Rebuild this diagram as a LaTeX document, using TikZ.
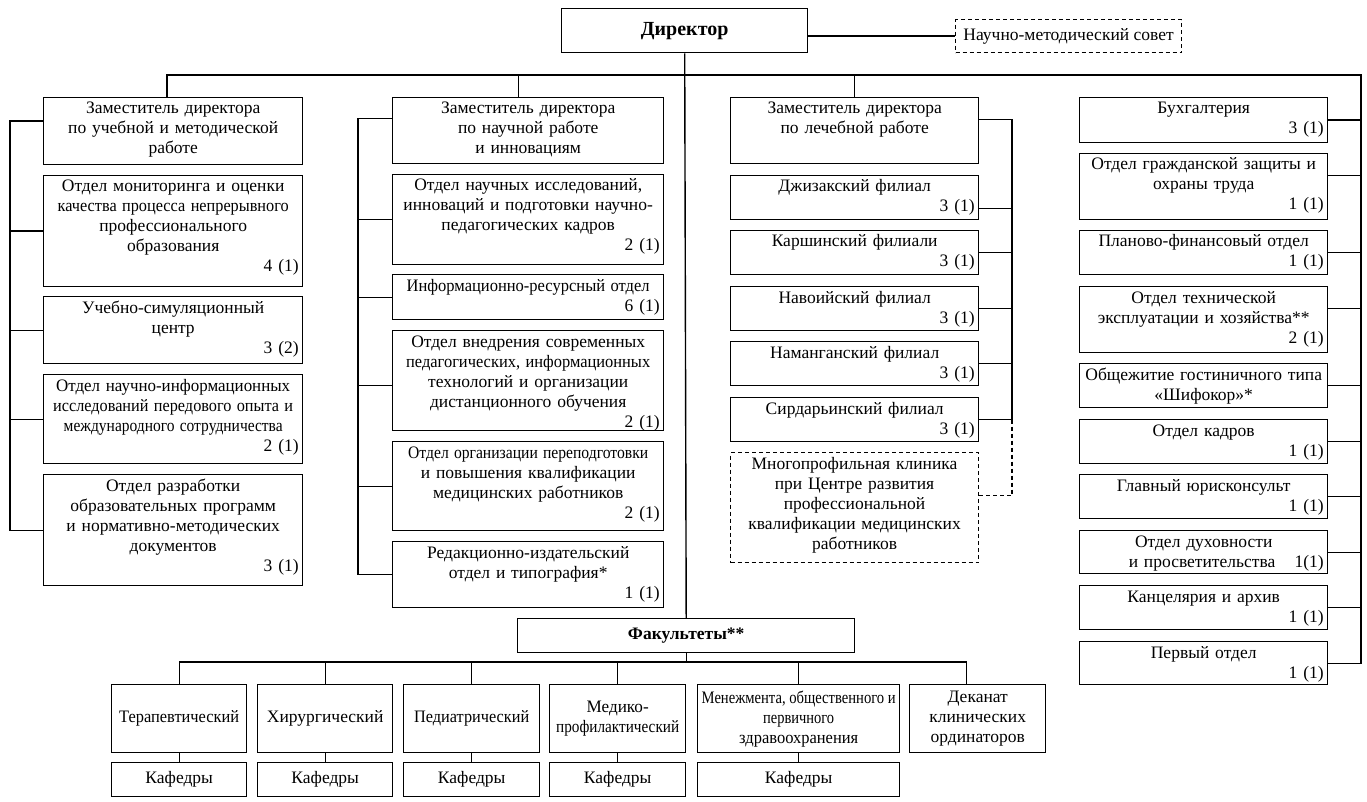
\documentclass[tikz,border=0pt]{standalone}
\usepackage{fontspec}
\setmainfont{Liberation Serif}
\usepackage{graphicx}
\newcommand\nm[1]{\\\hspace*{\fill}#1}
\newsavebox\fitbx
\newcommand\sq[2]{\sbox\fitbx{#2}\ifdim\wd\fitbx>#1pt\relax\resizebox{#1pt}{\height}{\usebox\fitbx}\else\usebox\fitbx\fi}
\tikzset{
  ob/.style={draw, line width=1.4pt, rectangle, inner sep=0pt},
  dob/.style={draw, line width=1.1pt, dash pattern=on 4pt off 3pt, rectangle, inner sep=0pt},
  tx/.style={align=center, inner sep=0pt, font=\fontsize{17.5}{20}\selectfont},
  ln/.style={line width=1.4pt},
  dln/.style={line width=1.1pt, dash pattern=on 4pt off 3pt},
  fbx/.style={ob, align=center, font=\fontsize{17.5}{20}\selectfont},
}
\newcommand\tbox[7][ob]{%
  \node[#1, minimum width={(#5-#3)*1pt}, minimum height={(#6-#4)*1pt}, anchor=north west] (#2) at (#3,#4) {};
  \node[tx, text width={(#5-#3-8)*1pt}, anchor=base] (#2t) at ([yshift=-17pt]#2.north) {#7};
}
\newcommand\facbox[6]{%
  \node[fbx, minimum width={(#4-#2)*1pt}, minimum height={(#5-#3)*1pt}, anchor=north west] (#1) at (#2,#3) {#6};
}
\begin{document}
\begin{tikzpicture}[x=1pt,y=-1pt]
\fill[white] (0,0) rectangle (1367,802);
\useasboundingbox (0,0) rectangle (1367,802);

% top
\node[ob, minimum width=246pt, minimum height=44pt, anchor=north west, font=\bfseries\fontsize{20}{22}\selectfont] (dir) at (561,8) {Директор\rule[-3pt]{0pt}{0pt}};
\node[dob, minimum width=226pt, minimum height=33pt, anchor=north west, font=\fontsize{17.5}{20}\selectfont] (sov) at (955,19) {Научно-методический совет};

% column 1
\tbox{dA}{43}{97}{302}{164}{Заместитель директора\\по учебной и методической\\работе}
\tbox{B1}{43}{175}{302}{286}{Отдел мониторинга и оценки\\\sq{231}{качества процесса непрерывного}\\профессионального\\образования\nm{4 (1)}}
\tbox{B2}{43}{296}{302}{363}{Учебно-симуляционный\\центр\nm{3 (2)}}
\tbox{B3}{43}{374}{302}{463}{\sq{234}{Отдел научно-информационных}\\\sq{240}{исследований передового опыта и}\\\sq{219}{международного сотрудничества}\nm{2 (1)}}
\tbox{B4}{43}{474}{302}{585}{Отдел разработки\\образовательных программ\\и нормативно-методических\\документов\nm{3 (1)}}

% column 2
\tbox{dB}{392}{97}{663}{163}{Заместитель директора\\по научной работе\\и инновациям}
\tbox{C1}{392}{174}{663}{264}{Отдел научных исследований,\\инноваций и подготовки научно-\\педагогических кадров\nm{2 (1)}}
\tbox{C2}{392}{274}{663}{319}{\sq{243}{Информационно-ресурсный отдел}\nm{6 (1)}}
\tbox{C3}{392}{330}{663}{430}{Отдел внедрения современных\\\sq{244}{педагогических, информационных}\\технологий и организации\\дистанционного обучения\nm{2 (1)}}
\tbox{C4}{392}{441}{663}{530}{\sq{240}{Отдел организации переподготовки}\\и повышения квалификации\\медицинских работников\nm{2 (1)}}
\tbox{C5}{392}{541}{663}{607}{Редакционно-издательский\\отдел и типография*\nm{1 (1)}}

% column 3
\tbox{dC}{730}{97}{978}{163}{Заместитель директора\\по лечебной работе}
\tbox{D1}{730}{175}{978}{219}{Джизакский филиал\nm{3 (1)}}
\tbox{D2}{730}{230}{978}{274}{Каршинский филиали\nm{3 (1)}}
\tbox{D3}{730}{286}{978}{330}{Навоийский филиал\nm{3 (1)}}
\tbox{D4}{730}{341}{978}{385}{Наманганский филиал\nm{3 (1)}}
\tbox{D5}{730}{397}{978}{441}{Сирдарьинский филиал\nm{3 (1)}}
\tbox[dob]{CL}{730}{452}{978}{562}{Многопрофильная клиника\\при Центре развития\\профессиональной\\квалификации медицинских\\работников}

% column 4
\tbox{E1}{1079}{97}{1327}{142}{Бухгалтерия\nm{3 (1)}}
\tbox{E2}{1079}{153}{1327}{219}{Отдел гражданской защиты и\\охраны труда\nm{1 (1)}}
\tbox{E3}{1079}{230}{1327}{274}{Планово-финансовый отдел\nm{1 (1)}}
\tbox{E4}{1079}{286}{1327}{352}{Отдел технической\\эксплуатации и хозяйства**\nm{2 (1)}}
\tbox{E5}{1079}{363}{1327}{407}{Общежитие гостиничного типа\\«Шифокор»*}
\tbox{E6}{1079}{419}{1327}{463}{Отдел кадров\nm{1 (1)}}
\tbox{E7}{1079}{474}{1327}{518}{Главный юрисконсульт\nm{1 (1)}}
\tbox{E8}{1079}{530}{1327}{573}{Отдел духовности\\\hspace*{\fill}и просветительства\hspace{1.1em}1(1)\hspace*{8pt}}
\tbox{E9}{1079}{585}{1327}{629}{Канцелярия и архив\nm{1 (1)}}
\tbox{E10}{1079}{641}{1327}{684}{Первый отдел\nm{1 (1)}}

% faculties
\node[ob, minimum width=337pt, minimum height=34pt, anchor=north west, font=\bfseries\fontsize{17.5}{20}\selectfont] (fac) at (517,618) {Факультеты**\rule[-4pt]{0pt}{0pt}};
\facbox{F1}{111}{684}{246}{752}{\sq{120}{Терапевтический}}
\facbox{F2}{257}{684}{392}{752}{Хирургический}
\facbox{F3}{403}{684}{539}{752}{\sq{115}{Педиатрический}}
\facbox{F4}{549}{684}{685}{752}{\sq{62}{Медико-}\\\sq{123}{профилактический}}
\facbox{F5}{697}{684}{899}{752}{\sq{194}{Менежмента, общественного и}\\\sq{71}{первичного}\\\sq{119}{здравоохранения}}
\facbox{F6}{909}{684}{1045}{752}{Деканат\\клинических\\ординаторов}
\facbox{K1}{111}{762}{246}{796}{Кафедры}
\facbox{K2}{257}{762}{392}{796}{Кафедры}
\facbox{K3}{403}{762}{539}{796}{Кафедры}
\facbox{K4}{549}{762}{685}{796}{Кафедры}
\facbox{K5}{697}{762}{899}{796}{Кафедры}

% connectors
\coordinate (bL) at (167,75);
\coordinate (bR) at (1361,75);
\coordinate (lA) at (10,0);
\coordinate (lB) at (358,0);
\coordinate (lC) at (1012,0);
\coordinate (fb) at (0,662);

\draw[ln] (dir.east |- sov.west) -- (sov.west);
\draw[ln] (dir.south) -- (fac.north);
\draw[ln] (dA.north -| bL) -- (bL) -- (bR) |- (E10.east);
\draw[ln] ([xshift=-10pt]dB.north) -- ([xshift=-10pt]dB.north |- bL);
\draw[ln] (dC.north) -- (dC.north |- bL);

\draw[ln] ([yshift=10pt]dA.west) -| (lA |- B4.west) -- (B4.west);
\foreach \n in {B1,B2,B3} \draw[ln] (\n.west) -- (\n.west -| lA);

\draw[ln] ([yshift=12pt]dB.west) -| (lB |- C5.west) -- (C5.west);
\foreach \n in {C1,C2,C4} \draw[ln] (\n.west) -- (\n.west -| lB);
\draw[ln] ([yshift=-5pt]C3.west) -- ([yshift=-5pt]C3.west -| lB);

\draw[ln] ([yshift=11pt]dC.east) -| (lC |- D5.east) -- (D5.east);
\draw[ln] ([yshift=-11pt]D1.east) -- ([yshift=-11pt]D1.east -| lC);
\foreach \n in {D2,D3,D4} \draw[ln] (\n.east) -- (\n.east -| lC);
\draw[dln] (lC |- D5.east) |- ([yshift=12pt]CL.east);

\foreach \n in {E1,E3,E5,E6,E7,E8,E9} \draw[ln] (\n.east) -- (\n.east -| bR);
\foreach \n in {E2,E4} \draw[ln] ([yshift=11pt]\n.east) -- ([yshift=11pt]\n.east -| bR);

\coordinate (f6) at ([xshift=-11pt]F6.north);
\draw[ln] (fac.south) -- (fac.south |- fb);
\draw[ln] (F1.north) -- (F1.north |- fb) -- (fb -| f6) -- (f6);
\foreach \n in {F2,F3,F4,F5} \draw[ln] (\n.north) -- (\n.north |- fb);
\foreach \a/\b in {F1/K1,F2/K2,F3/K3,F4/K4,F5/K5} \draw[ln] (\a.south) -- (\b.north);
\end{tikzpicture}
\end{document}
